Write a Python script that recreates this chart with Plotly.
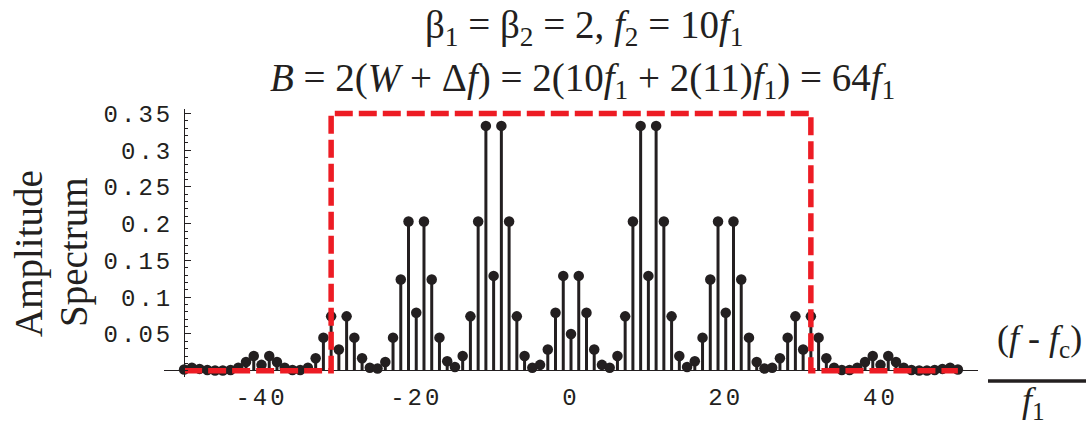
import plotly.graph_objects as go

# Spectral line positions, in multiples of f1 relative to the carrier
offsets = list(range(-50, 51))

# Amplitude of each spectral line for k = 0 .. 50 (the spectrum is symmetric)
amp_pos = [
    0.050, 0.129, 0.079, 0.029, 0.008, 0.004, 0.020, 0.074, 0.203, 0.333,
    0.129, 0.333, 0.203, 0.074, 0.020, 0.005, 0.013, 0.045, 0.124, 0.203,
    0.079, 0.203, 0.124, 0.045, 0.012, 0.003, 0.004, 0.017, 0.045, 0.074,
    0.029, 0.074, 0.045, 0.017, 0.004, 0.001, 0.001, 0.004, 0.012, 0.020,
    0.008, 0.020, 0.012, 0.004, 0.001, 0.0003, 0.0003, 0.001, 0.0025, 0.004,
    0.0016,
]
amplitudes = amp_pos[:0:-1] + amp_pos

# Carson-rule bandwidth window (edges in multiples of f1) and its drawn height
band_edge = 31
band_height = 0.35
band_x = [-50, -band_edge, -band_edge, band_edge, band_edge, 50]
band_y = [0, 0, band_height, band_height, 0, 0]

y_ticks = [0.05, 0.1, 0.15, 0.2, 0.25, 0.3, 0.35]
y_tick_text = ["0.05", "0.1", "0.15", "0.2", "0.25", "0.3", "0.35"]
x_ticks = [-40, -20, 0, 20, 40]
x_tick_text = ["-40", "-20", "0", "20", "40"]

INK = "#231f20"
RED = "#ed1c24"
MONO = "Courier New, Liberation Mono, monospace"
SERIF = "Times New Roman, Liberation Serif, serif"


def spaced(s):
    return '<span style="letter-spacing:3px">' + s + "</span>"


# Stems: one segment per line from the baseline up to the amplitude
stem_x, stem_y = [], []
for k, a in zip(offsets, amplitudes):
    stem_x += [k, k, None]
    stem_y += [0, a, None]

fig = go.Figure()
fig.add_trace(go.Scatter(x=stem_x, y=stem_y, mode="lines",
                         line=dict(color=INK, width=3), hoverinfo="skip"))
fig.add_trace(go.Scatter(x=offsets, y=amplitudes, mode="markers",
                         marker=dict(color=INK, size=10.5)))
fig.add_trace(go.Scatter(x=band_x, y=band_y, mode="lines",
                         line=dict(color=RED, width=5.5, dash="18px,6px")))

X_MIN, X_MAX = -52.6, 52.6
ML, MR, MT, MB = 164, 108, 109, 50
W, H = 1086, 427
PW, PH = W - ML - MR, H - MT - MB


def px(xp):
    return (xp - ML) / PW


def py(yp):
    return (H - MB - yp) / PH


fig.update_layout(
    width=W, height=H,
    margin=dict(l=ML, r=MR, t=MT, b=MB),
    plot_bgcolor="white", paper_bgcolor="white",
    showlegend=False,
    xaxis=dict(range=[X_MIN, X_MAX], showgrid=False, zeroline=False,
               showline=False, ticks="", tickvals=x_ticks,
               ticktext=[spaced(t) for t in x_tick_text],
               tickfont=dict(family=MONO, size=24, color=INK),
               ticklabelstandoff=3),
    yaxis=dict(range=[-0.0085, 0.356], showgrid=False,
               zeroline=True, zerolinecolor=INK, zerolinewidth=1.2,
               showline=True, linecolor=INK, linewidth=1.2,
               anchor="free", position=(-50 - X_MIN) / (X_MAX - X_MIN),
               ticks="inside", ticklen=6, tickcolor=INK, tickwidth=1,
               tickvals=y_ticks, ticktext=[spaced(t) for t in y_tick_text],
               tickfont=dict(family=MONO, size=24, color=INK),
               ticklabelstandoff=6,
               minor=dict(dtick=0.01, ticks="inside", ticklen=3,
                          tickcolor=INK, tickwidth=1)),
)

title_font = dict(family=SERIF, size=39, color=INK)
label_font = dict(family=SERIF, size=39, color=INK)

fig.add_annotation(
    text="β<sub>1</sub> = β<sub>2</sub> = 2, <i>f</i><sub>2</sub> = 10<i>f</i><sub>1</sub>",
    xref="paper", yref="paper", x=px(584), y=py(28), xanchor="center",
    yanchor="middle", showarrow=False, font=title_font)
fig.add_annotation(
    text="<i>B</i> = 2(<i>W</i> + Δ<i>f</i>) = 2(10<i>f</i><sub>1</sub> + "
         "2(11)<i>f</i><sub>1</sub>) = 64<i>f</i><sub>1</sub>",
    xref="paper", yref="paper", x=px(582), y=py(81), xanchor="center",
    yanchor="middle", showarrow=False, font=title_font)

fig.add_annotation(text="Amplitude", xref="paper", yref="paper",
                   x=px(29), y=py(254), textangle=-90, showarrow=False,
                   xanchor="center", yanchor="middle", font=label_font)
fig.add_annotation(text="Spectrum", xref="paper", yref="paper",
                   x=px(74), y=py(253), textangle=-90, showarrow=False,
                   xanchor="center", yanchor="middle", font=label_font)

fig.add_annotation(text="(<i>f</i> - <i>f</i><sub>c</sub>)", xref="paper",
                   yref="paper", x=px(1039), y=py(340), showarrow=False,
                   xanchor="center", yanchor="middle",
                   font=dict(family=SERIF, size=36, color=INK))
fig.add_annotation(text="<i>f</i><sub>1</sub>", xref="paper", yref="paper",
                   x=px(1033), y=py(402), showarrow=False,
                   xanchor="center", yanchor="middle",
                   font=dict(family=SERIF, size=36, color=INK))
fig.add_shape(type="line", xref="paper", yref="paper",
              x0=px(988), x1=px(1086), y0=py(381), y1=py(381),
              line=dict(color=INK, width=3.5))

fig.write_html("out.html")
